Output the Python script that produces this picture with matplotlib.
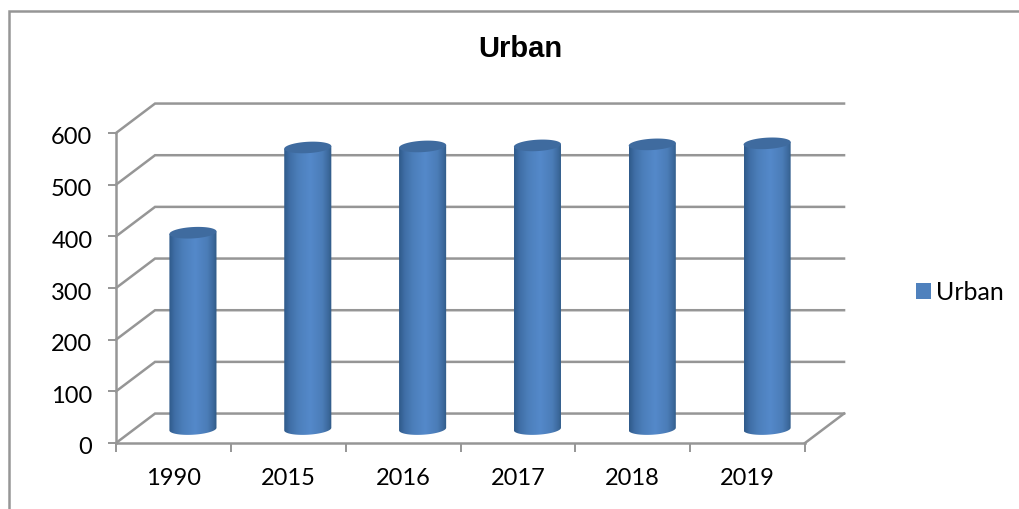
import numpy as np
import matplotlib
matplotlib.use('Agg')
import matplotlib.pyplot as plt
from matplotlib.colors import LinearSegmentedColormap
from matplotlib.lines import Line2D
from matplotlib.patches import Polygon, Patch
from matplotlib.transforms import ScaledTranslation

years = ['1990', '2015', '2016', '2017', '2018', '2019']
urban = [380, 545, 547, 549, 551, 553]
y_ticks = [0, 100, 200, 300, 400, 500, 600]

W, H = 1019, 509
GREY = '#969696'

# fake 3d depth, in data units of the front plane
dx = 0.34
dy = 57
bar_w = 0.41
ell_b = 11    # half height of the cylinder ends
ell_s = 2.5   # tilt of the ends
base = 27

fig = plt.figure(figsize=(W / 100, H / 100), dpi=100)
ax = fig.add_axes([116 / W, 1 - 443 / H, 689 / W, 310 / H])
ax.set_xlim(0, 6)
ax.set_ylim(0, 600)

for s in ['top', 'right']:
    ax.spines[s].set_visible(False)
for s in ['left', 'bottom']:
    ax.spines[s].set_color(GREY)
    ax.spines[s].set_linewidth(1.8)

# walls and floor
for v in y_ticks:
    ax.plot([0, dx, 6 + dx], [v, v + dy, v + dy], color=GREY, lw=1.8,
            clip_on=False, zorder=1, solid_joinstyle='miter')
ax.plot([6, 6 + dx], [0, dy], color=GREY, lw=1.8, clip_on=False, zorder=1)

# cylinders
cmap = LinearSegmentedColormap.from_list('cyl', [
    (0, '#2f5a8a'), (0.12, '#3f6ea6'), (0.3, '#4c7fbb'), (0.55, '#5489ca'),
    (0.8, '#4b7db8'), (0.92, '#3d6a9e'), (1, '#2f5a85')])
grad = np.linspace(0, 1, 256).reshape(1, -1)
t = np.linspace(0, 2 * np.pi, 121)


def end_xy(cx, cy):
    # tilted ellipse for the end of a cylinder
    return cx + bar_w / 2 * np.cos(t), cy + ell_b * np.sin(t) + ell_s * np.cos(t)


for i, v in enumerate(urban):
    cx = i + 0.5 + dx / 2
    left, right = cx - bar_w / 2, cx + bar_w / 2
    top = v + base
    bx, by = end_xy(cx, base)
    lower = t >= np.pi
    outline = list(zip(bx[lower], by[lower]))
    outline += [(right, top + ell_s), (left, top - ell_s)]
    body = Polygon(outline, closed=True, fc='none', ec='none')
    ax.add_patch(body)
    im = ax.imshow(grad, cmap=cmap, extent=[left, right, 0, top + 20], aspect='auto',
                   zorder=3, interpolation='bilinear')
    im.set_clip_path(body)
    tx, ty = end_xy(cx, top)
    ax.add_patch(Polygon(list(zip(tx, ty)), closed=True, fc='#3f6b9f', ec='none', zorder=4))

ax.set_xlim(0, 6)
ax.set_ylim(0, 600)

# ticks
ax.set_xticks(range(7))
ax.set_xticklabels([])
ax.set_xticks(np.arange(6) + 0.5, years, minor=True, fontsize=17, family='Lato', color='black')
ax.set_yticks(y_ticks)
ax.set_yticklabels(y_ticks, fontsize=17, family='Lato', color='black')
ax.tick_params(axis='x', which='major', length=6.5, width=1.4, color=GREY)
ax.tick_params(axis='x', which='minor', length=0, pad=18)
ax.tick_params(axis='y', length=6, width=1.4, color=GREY, pad=11)
shift = ScaledTranslation(0, -3 / 100, fig.dpi_scale_trans)
for lab in ax.get_yticklabels():
    lab.set_transform(lab.get_transform() + shift)

fig.text(520 / W, 1 - 49 / H, 'Urban', ha='center', va='center', fontsize=21,
         fontweight='bold', family='Liberation Sans')

handle = Patch(fc='#4f81bd', ec='none')
fig.legend(handles=[handle], labels=['Urban'], loc='center left',
           bbox_to_anchor=(906 / W, 1 - 292 / H), frameon=False,
           prop={'family': 'Lato', 'size': 18}, handlelength=0.6, handleheight=0.6,
           handletextpad=0.2, borderpad=0.2, borderaxespad=0.2)

# outer chart border, only top and left are in the crop
fig.add_artist(Line2D([8.5 / W, 8.5 / W, 1], [0, 1 - 10.5 / H, 1 - 10.5 / H],
                      color=GREY, lw=1.8, solid_joinstyle='miter'))

fig.savefig('out.png', dpi=100)
